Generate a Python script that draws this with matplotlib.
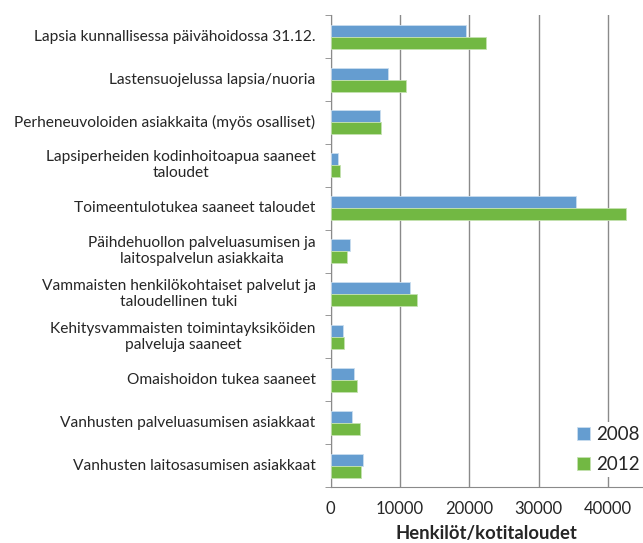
import numpy as np
import matplotlib.pyplot as plt
from matplotlib.transforms import blended_transform_factory, offset_copy

# kategoriat ja arvot
kategoriat = [
    "Lapsia kunnallisessa päivähoidossa 31.12.",
    "Lastensuojelussa lapsia/nuoria",
    "Perheneuvoloiden asiakkaita (myös osalliset)",
    "Lapsiperheiden kodinhoitoapua saaneet\ntaloudet",
    "Toimeentulotukea saaneet taloudet",
    "Päihdehuollon palveluasumisen ja\nlaitospalvelun asiakkaita",
    "Vammaisten henkilökohtaiset palvelut ja\ntaloudellinen tuki",
    "Kehitysvammaisten toimintayksiköiden\npalveluja saaneet",
    "Omaishoidon tukea saaneet",
    "Vanhusten palveluasumisen asiakkaat",
    "Vanhusten laitosasumisen asiakkaat",
]
arvot_2008 = [19500, 8270, 7070, 1060, 35290, 2740, 11390, 1830, 3320, 3030, 4660]
arvot_2012 = [22450, 10820, 7210, 1300, 42600, 2360, 12500, 1970, 3750, 4180, 4380]

plt.rcParams['font.family'] = ['Lato', 'DejaVu Sans']

fig = plt.figure(figsize=(6.43, 5.43), dpi=100)
ax = fig.add_axes([0.514, 0.103, 0.486, 0.869])

y = np.arange(len(kategoriat))
h = 0.28
ax.barh(y - h / 2, arvot_2008, height=h, color="#659dd0", edgecolor="#c9ddef",
        linewidth=0.6, label="2008", zorder=3)
ax.barh(y + h / 2, arvot_2012, height=h, color="#72b843", edgecolor="#c4e2b0",
        linewidth=0.6, label="2012", zorder=3)

ax.set_ylim(len(kategoriat) - 0.5, -0.5)
ax.set_xlim(0, 45000)
ax.set_xticks([0, 10000, 20000, 30000, 40000])

# kategorianimet keskitetyillä riveillä
ax.set_yticks(y)
ax.set_yticklabels([])
tr = offset_copy(blended_transform_factory(ax.transAxes, ax.transData),
                 fig=fig, x=-15, y=0, units="dots")
for yi, nimi in zip(y, kategoriat):
    ax.text(0, yi, nimi, transform=tr, ha="right", va="center",
            multialignment="center", fontsize=11.2, color="#262626",
            linespacing=1.2)

ax.set_yticks(np.arange(len(kategoriat) + 1) - 0.5, minor=True)
ax.tick_params(axis="y", which="major", length=0)
ax.tick_params(axis="y", which="minor", length=4, color="#888888")
ax.tick_params(axis="x", length=0, labelsize=12, labelcolor="#262626", pad=10)

ax.grid(axis="x", color="#8a8a8a", linewidth=1, zorder=0)
for s in ["top", "right"]:
    ax.spines[s].set_visible(False)
for s in ["left", "bottom"]:
    ax.spines[s].set_color("#8a8a8a")

ax.set_xlabel("Henkilöt/kotitaloudet", fontsize=13.3, fontweight="bold",
              color="#262626", labelpad=6)

leg = ax.legend(loc="lower right", bbox_to_anchor=(1.0, 0.022), frameon=True,
                fontsize=13.5, handlelength=0.7, handleheight=0.7,
                handletextpad=0.3, labelspacing=0.7, borderpad=0.2,
                borderaxespad=0)
leg.get_frame().set_edgecolor("none")
leg.get_frame().set_facecolor("white")
leg.get_frame().set_alpha(1)
for t in leg.get_texts():
    t.set_color("#262626")

fig.savefig("out.png", dpi=100)
